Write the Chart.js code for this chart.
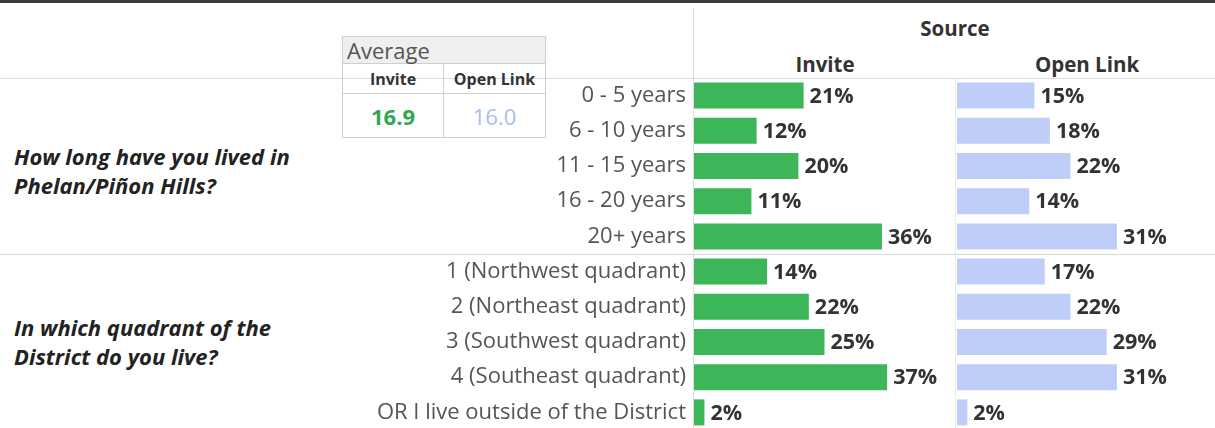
<!DOCTYPE html>
<html>
<head>
<meta charset="utf-8">
<script src="https://cdn.jsdelivr.net/npm/chart.js@4.4.0/dist/chart.umd.min.js"></script>
<style>
  body { margin: 0; background: #fff; font-family: "Open Sans", sans-serif; }
  #wrap { position: relative; width: 1215px; height: 428px; overflow: hidden; }
  .abs { position: absolute; }
  .hdr { font-weight: bold; font-size: 20.5px; color: #333; transform: translateX(-50%); white-space: nowrap; }
  .question { font-weight: bold; font-style: italic; font-size: 22px; color: #222; line-height: 29px; white-space: nowrap; }
  #avg { border-collapse: collapse; font-size: 16px; }
  #avg td { border: 1px solid #cfcfcf; text-align: center; padding: 0; }
</style>
</head>
<body>
<div id="wrap">
  <div class="abs" style="left:0;top:0;width:1215px;height:3px;background:#3a3a3a"></div>
  <div class="abs" style="left:693px;top:8px;width:1px;height:420px;background:#dcdcdc"></div>
  <div class="abs" style="left:955px;top:78px;width:1px;height:350px;background:#ececec"></div>
  <div class="abs" style="left:0;top:78px;width:1215px;height:1px;background:#dcdcdc"></div>

  <div class="abs hdr" id="srcTitle" style="left:955px;top:14px"></div>
  <div class="abs hdr" id="colA" style="left:825px;top:50px"></div>
  <div class="abs hdr" id="colB" style="left:1087px;top:50px"></div>

  <table id="avg" class="abs" style="left:342px;top:36px;width:204px">
    <tr style="height:27px"><td colspan="2" id="avgTitle" style="background:#efefef;text-align:left;font-size:22px;line-height:24px;color:#555;padding-left:4px"></td></tr>
    <tr style="height:30px"><td id="avgA" style="width:100px;font-weight:bold;color:#333"></td><td id="avgB" style="font-weight:bold;color:#333"></td></tr>
    <tr style="height:44px"><td id="avgValA" style="font-size:22px;font-weight:bold;color:#2fa84f"></td><td id="avgValB" style="font-size:22px;color:#a9bdf2"></td></tr>
  </table>

  <div class="abs question" id="q1" style="left:14px;top:142px"></div>
  <div class="abs question" id="q2" style="left:14px;top:313px"></div>

  <canvas id="chartA" class="abs" width="955" height="352" style="left:0;top:78px"></canvas>
  <canvas id="chartB" class="abs" width="260" height="352" style="left:955px;top:78px"></canvas>
</div>

<script>
// categories, top to bottom
const categories = [
  '0 - 5 years', '6 - 10 years', '11 - 15 years', '16 - 20 years', '20+ years',
  '1 (Northwest quadrant)', '2 (Northeast quadrant)', '3 (Southwest quadrant)',
  '4 (Southeast quadrant)', 'OR I live outside of the District'
];
const questions = ['How long have you lived in\nPhelan/Piñon Hills?', 'In which quadrant of the\nDistrict do you live?'];
const groupSize = [5, 5];  // rows per question

const sourceTitle = 'Source';
const sources = ['Invite', 'Open Link'];
const inviteValues = [21, 12, 20, 11, 36, 14, 22, 25, 37, 2];
const openLinkValues = [15, 18, 22, 14, 31, 17, 22, 29, 31, 2];
const averages = [16.9, 16.0];

const green = '#3db65a';
const blue = '#bfcef8';

// header texts
document.getElementById('srcTitle').textContent = sourceTitle;
document.getElementById('colA').textContent = sources[0];
document.getElementById('colB').textContent = sources[1];
document.getElementById('avgTitle').textContent = 'Average';
document.getElementById('avgA').textContent = sources[0];
document.getElementById('avgB').textContent = sources[1];
document.getElementById('avgValA').textContent = averages[0].toFixed(1);
document.getElementById('avgValB').textContent = averages[1].toFixed(1);
document.getElementById('q1').innerText = questions[0];
document.getElementById('q2').innerText = questions[1];

// draws % labels after each bar and the line between the two questions
const barLabels = {
  id: 'barLabels',
  afterDatasetsDraw(chart) {
    const ctx = chart.ctx;
    const meta = chart.getDatasetMeta(0);
    const data = chart.data.datasets[0].data;
    ctx.save();
    ctx.font = 'bold 21.5px "Open Sans", sans-serif';
    ctx.fillStyle = '#333';
    ctx.textBaseline = 'middle';
    meta.data.forEach((bar, i) => {
      ctx.fillText(data[i] + '%', bar.x + 6, bar.y + 1);
    });
    // separator between question groups
    const y = chart.scales.y;
    const yy = Math.round((y.getPixelForValue(groupSize[0] - 1) + y.getPixelForValue(groupSize[0])) / 2) + 0.5;
    ctx.strokeStyle = '#d6d6d6';
    ctx.lineWidth = 1;
    ctx.beginPath();
    ctx.moveTo(0, yy);
    ctx.lineTo(chart.width, yy);
    ctx.stroke();
    ctx.restore();
  }
};

function makeChart(id, values, color, showLabels) {
  return new Chart(document.getElementById(id), {
    type: 'bar',
    data: {
      labels: categories,
      datasets: [{
        data: values,
        backgroundColor: color,
        barPercentage: 0.74,
        categoryPercentage: 1
      }]
    },
    options: {
      indexAxis: 'y',
      responsive: false,
      animation: false,
      layout: { padding: { left: showLabels ? 0 : 2, right: 0, top: 0, bottom: 0 } },
      plugins: { legend: { display: false }, tooltip: { enabled: false } },
      scales: {
        x: { min: 0, max: 50, display: false },
        y: {
          display: showLabels,
          grid: { display: false, drawTicks: false },
          border: { display: false },
          ticks: {
            padding: 8,
            color: '#555',
            font: { family: '"Open Sans", sans-serif', size: 22 }
          },
          afterFit(scale) {
            if (showLabels) scale.width = 694;
            // no extra room above/below for the tick labels
            scale.paddingTop = 0;
            scale.paddingBottom = 0;
          }
        }
      }
    },
    plugins: [barLabels]
  });
}

makeChart('chartA', inviteValues, green, true);
makeChart('chartB', openLinkValues, blue, false);
</script>
</body>
</html>
